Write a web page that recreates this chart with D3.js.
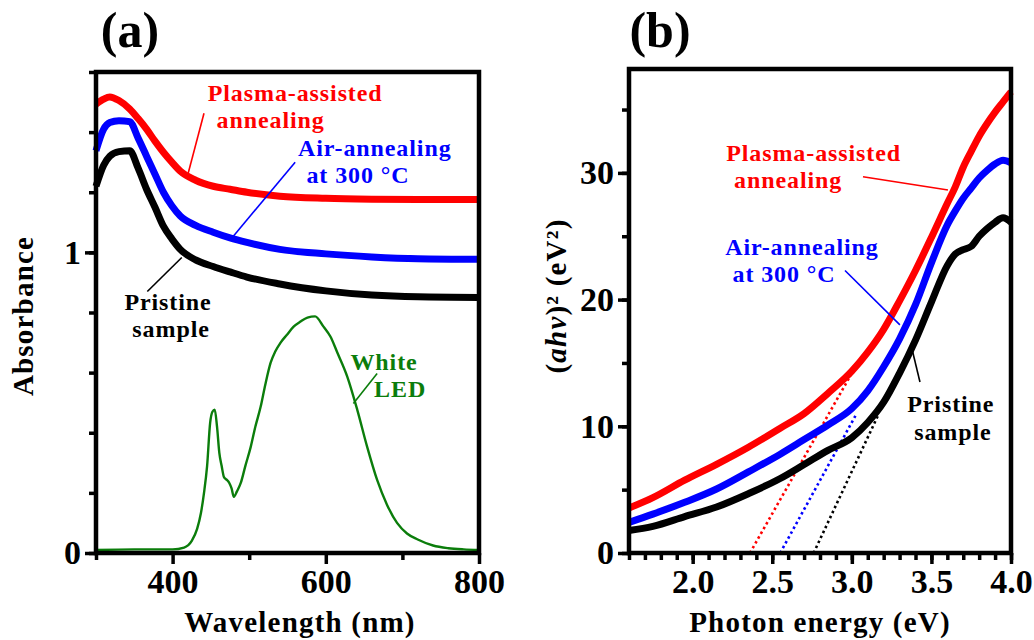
<!DOCTYPE html>
<html>
<head>
<meta charset="utf-8">
<script src="https://cdn.jsdelivr.net/npm/d3@7"></script>
<style>
    body { margin: 0; background: #fff; overflow: hidden; }
    svg text { font-family: "Liberation Serif", "Times New Roman", serif; font-weight: bold; }
    .tick text { font-size: 34px; fill: #000; }
    .tick line { stroke: #000; stroke-width: 3.5; }
    .ann { font-size: 24px; letter-spacing: 0.9px; }
    .axlabel { font-size: 29px; letter-spacing: 1.2px; }
</style>
</head>
<body>
<svg width="1034" height="640"></svg>
<script>
// ---- panel (a): absorbance vs wavelength ----
var wl = [300, 310, 318, 330, 344, 355, 366, 377, 388, 399, 410, 430, 453, 475, 497, 540, 600, 660, 720, 800];
var absPlasma = [1.493, 1.51, 1.517, 1.505, 1.477, 1.445, 1.41, 1.37, 1.333, 1.30, 1.27, 1.24, 1.22, 1.21, 1.20, 1.187, 1.18, 1.177, 1.176, 1.176];
var absAir = [1.338, 1.41, 1.432, 1.438, 1.435, 1.38, 1.32, 1.26, 1.20, 1.155, 1.121, 1.09, 1.067, 1.048, 1.033, 1.01, 0.995, 0.985, 0.979, 0.977];
var absPristine = [1.22, 1.29, 1.32, 1.335, 1.338, 1.28, 1.21, 1.15, 1.087, 1.045, 1.01, 0.975, 0.953, 0.935, 0.918, 0.895, 0.872, 0.858, 0.852, 0.85];

var ledW = [300, 350, 400, 415, 425, 432, 437, 441, 445, 449, 452, 455, 458, 461, 464, 467, 470, 474, 477, 480,
            484, 489, 495, 502, 508, 515, 521, 528, 534, 541, 549, 558, 567, 576, 586, 597, 606, 615, 628, 641,
            654, 667, 680, 693, 706, 720, 740, 760, 780, 800];
var ledA = [0.010, 0.012, 0.012, 0.018, 0.04, 0.08, 0.133, 0.2, 0.288, 0.433, 0.47, 0.477, 0.42, 0.333, 0.29, 0.253, 0.245, 0.233, 0.215, 0.187,
            0.205, 0.233, 0.29, 0.353, 0.42, 0.487, 0.56, 0.633, 0.67, 0.70, 0.725, 0.753, 0.77, 0.783, 0.787, 0.753, 0.72, 0.667, 0.587, 0.477,
            0.353, 0.243, 0.16, 0.10, 0.065, 0.045, 0.025, 0.016, 0.012, 0.010];

// ---- panel (b): Tauc plot ----
var energy = [1.6, 1.75, 1.95, 2.15, 2.35, 2.55, 2.7, 2.85, 3.0, 3.1, 3.2, 3.3, 3.4, 3.5, 3.6, 3.65, 3.7, 3.75, 3.8, 3.85, 3.9, 3.95, 4.0];
var taucPlasma = [3.55, 4.37, 5.75, 7.0, 8.35, 9.85, 11.0, 12.6, 14.35, 15.85, 17.65, 19.9, 22.3, 24.9, 27.6, 28.9, 30.45, 31.7, 32.9, 33.9, 34.8, 35.6, 36.4];
var taucAir = [2.42, 3.07, 4.0, 5.05, 6.4, 7.8, 8.95, 10.1, 11.4, 12.8, 14.7, 16.9, 19.6, 22.9, 25.9, 27.0, 28.0, 28.8, 29.6, 30.2, 30.7, 31.0, 30.8];
var taucPristine = [1.77, 2.1, 2.87, 3.63, 4.68, 5.88, 6.98, 8.1, 9.1, 10.3, 11.9, 14.2, 16.8, 19.8, 22.7, 23.6, 23.95, 24.2, 25.0, 25.6, 26.1, 26.45, 26.1];

// linear extrapolations (band gap): [E at zero, E at end, value at end]
var fitPlasma = [2.36, 3.0, 14.2];
var fitAir = [2.55, 3.03, 11.0];
var fitPristine = [2.76, 3.17, 11.0];

var colors = ["#ff0000", "#0000ff", "#000000"];
var ledColor = "#0b7d0b";

var svg = d3.select("svg");

var xa = d3.scaleLinear().domain([300, 800]).range([96, 479]);
var ya = d3.scaleLinear().domain([0, 1.6]).range([553, 72]);
var xb = d3.scaleLinear().domain([1.6, 4.0]).range([629, 1011]);
var yb = d3.scaleLinear().domain([0, 38.2]).range([553, 69]);

function drawAxes(x, y, xMajor, xMinor, yMajor, yMinor, xFmt, yFmt) {
    var b = y.range()[0], l = x.range()[0];
    var g = svg.append("g");
    g.append("g").attr("transform", "translate(0," + b + ")")
        .call(d3.axisBottom(x).tickValues(xMinor).tickSize(7).tickFormat(""))
        .call(function (s) { s.select(".domain").remove(); });
    g.append("g").attr("transform", "translate(0," + b + ")")
        .call(d3.axisBottom(x).tickValues(xMajor).tickSize(11).tickPadding(5).tickFormat(xFmt))
        .call(function (s) { s.select(".domain").remove(); });
    g.append("g").attr("transform", "translate(" + l + ",0)")
        .call(d3.axisLeft(y).tickValues(yMinor).tickSize(7).tickFormat(""))
        .call(function (s) { s.select(".domain").remove(); });
    g.append("g").attr("transform", "translate(" + l + ",0)")
        .call(d3.axisLeft(y).tickValues(yMajor).tickSize(11).tickPadding(4).tickFormat(yFmt))
        .call(function (s) { s.select(".domain").remove(); });
    g.selectAll(".tick text").attr("font-family", null).attr("font-size", null);
    g.append("rect")
        .attr("x", x.range()[0]).attr("y", y.range()[1])
        .attr("width", x.range()[1] - x.range()[0])
        .attr("height", y.range()[0] - y.range()[1])
        .attr("fill", "none").attr("stroke", "#000").attr("stroke-width", 4.5);
}

function curve(x, y, xs, ys, color, w) {
    var line = d3.line().x(function (d, i) { return x(xs[i]); })
        .y(function (d) { return y(d); }).curve(d3.curveMonotoneX);
    svg.append("path").attr("d", line(ys)).attr("fill", "none")
        .attr("stroke", color).attr("stroke-width", w).attr("stroke-linejoin", "round");
}

// two-line note: text of each line, its centre and baseline in data units
function note(x, y, lines, color) {
    lines.forEach(function (ln) {
        svg.append("text").attr("class", "ann").attr("fill", color).attr("text-anchor", "middle")
            .attr("x", x(ln[1])).attr("y", y(ln[2])).text(ln[0]);
    });
}

function leader(x, y, p, color) {
    svg.append("line").attr("x1", x(p[0])).attr("y1", y(p[1]))
        .attr("x2", x(p[2])).attr("y2", y(p[3]))
        .attr("stroke", color).attr("stroke-width", 1.6);
}

// panel (a)
curve(xa, ya, ledW, ledA, ledColor, 2.4);
curve(xa, ya, wl, absPlasma, colors[0], 7);
curve(xa, ya, wl, absAir, colors[1], 7);
curve(xa, ya, wl, absPristine, colors[2], 7);
drawAxes(xa, ya, [400, 600, 800], [300, 500, 700], [0, 1], d3.range(0, 1.61, 0.2),
    d3.format("d"), d3.format("d"));

note(xa, ya, [["Plasma-assisted", 560, 1.503], ["annealing", 528, 1.413]], colors[0]);
leader(xa, ya, [441, 1.463, 420, 1.26], colors[0]);
note(xa, ya, [["Air-annealing", 664, 1.32], ["at 300 °C", 642, 1.23]], colors[1]);
leader(xa, ya, [560, 1.30, 479, 1.053], colors[1]);
note(xa, ya, [["Pristine", 394, 0.807], ["sample", 398, 0.717]], colors[2]);
leader(xa, ya, [367, 0.87, 412, 0.983], colors[2]);
note(xa, ya, [["White", 676, 0.61], ["LED", 697, 0.52]], ledColor);
leader(xa, ya, [667, 0.597, 636, 0.497], ledColor);

// panel (b)
[[fitPlasma, colors[0]], [fitAir, colors[1]], [fitPristine, colors[2]]].forEach(function (f) {
    svg.append("line")
        .attr("x1", xb(f[0][0])).attr("y1", yb(0))
        .attr("x2", xb(f[0][1])).attr("y2", yb(f[0][2]))
        .attr("stroke", f[1]).attr("stroke-width", 2.6).attr("stroke-dasharray", "2.5,3");
});
curve(xb, yb, energy, taucPlasma, colors[0], 7);
curve(xb, yb, energy, taucAir, colors[1], 7);
curve(xb, yb, energy, taucPristine, colors[2], 7);
drawAxes(xb, yb, [2.0, 2.5, 3.0, 3.5, 4.0], d3.range(1.6, 4.01, 0.1), [0, 10, 20, 30], d3.range(0, 38, 5),
    d3.format(".1f"), d3.format("d"));

note(xb, yb, [["Plasma-assisted", 2.76, 30.95], ["annealing", 2.6, 28.8]], colors[0]);
leader(xb, yb, [3.07, 29.7, 3.604, 28.65], colors[0]);
note(xb, yb, [["Air-annealing", 2.687, 23.55], ["at 300 °C", 2.574, 21.4]], colors[1]);
leader(xb, yb, [2.957, 22.3, 3.302, 18.0], colors[1]);
note(xb, yb, [["Pristine", 3.622, 11.1], ["sample", 3.635, 8.95]], colors[2]);
leader(xb, yb, [3.378, 16.1, 3.428, 13.5], colors[2]);

// titles and axis labels
svg.append("text").attr("x", 130).attr("y", 47).attr("text-anchor", "middle")
    .attr("font-size", 50).text("(a)");
svg.append("text").attr("x", 660).attr("y", 47).attr("text-anchor", "middle")
    .attr("font-size", 50).text("(b)");
svg.append("text").attr("class", "axlabel").attr("x", 300).attr("y", 632)
    .attr("text-anchor", "middle").text("Wavelength (nm)");
svg.append("text").attr("class", "axlabel").attr("x", 820).attr("y", 632)
    .attr("text-anchor", "middle").text("Photon energy (eV)");
svg.append("text").attr("class", "axlabel")
    .attr("transform", "translate(33,316) rotate(-90)")
    .attr("text-anchor", "middle").text("Absorbance");

var yl = svg.append("text").attr("class", "axlabel")
    .attr("transform", "translate(566,296) rotate(-90)")
    .attr("text-anchor", "middle");
yl.append("tspan").text("(");
yl.append("tspan").attr("font-style", "italic").text("ahv");
yl.append("tspan").text(")²  (eV²)");
</script>
</body>
</html>
